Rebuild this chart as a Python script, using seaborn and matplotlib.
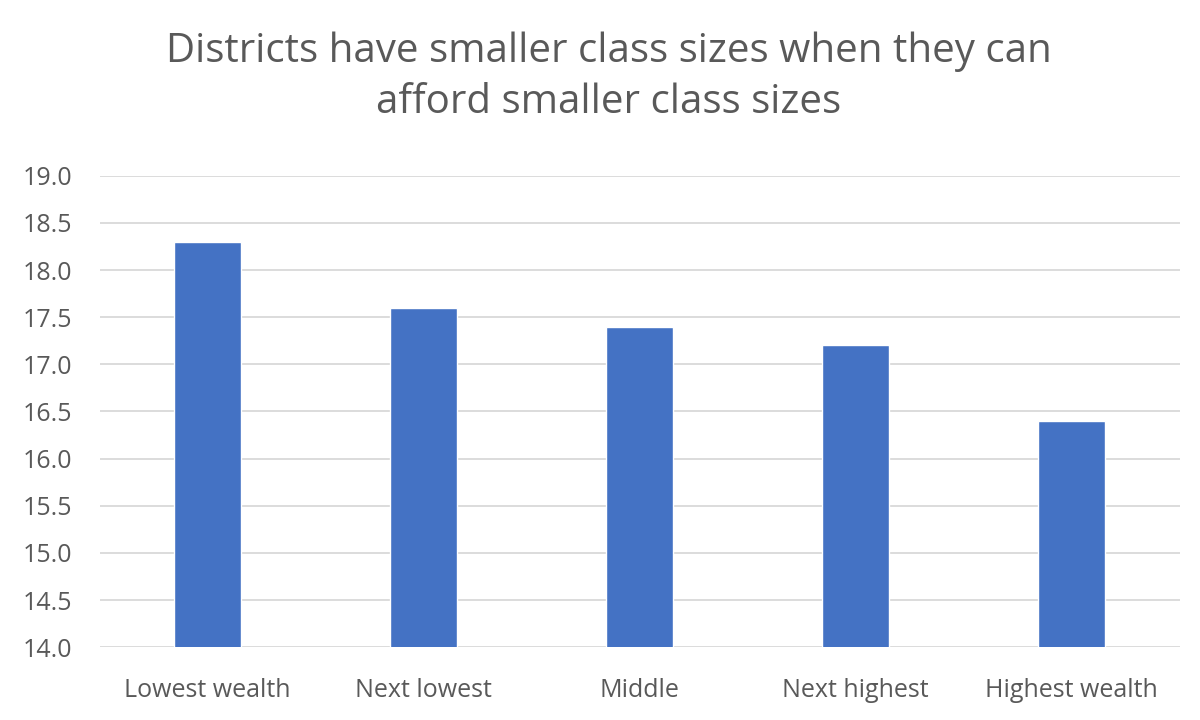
import pandas as pd
import matplotlib.pyplot as plt
import seaborn as sns

# Chart data
categories = ['Lowest wealth', 'Next lowest', 'Middle', 'Next highest', 'Highest wealth']
class_size = [18.3, 17.6, 17.4, 17.2, 16.4]
y_ticks = [14.0, 14.5, 15.0, 15.5, 16.0, 16.5, 17.0, 17.5, 18.0, 18.5, 19.0]

df = pd.DataFrame({'group': categories, 'size': class_size})

sns.set_style('white')
plt.rcParams['font.family'] = ['Open Sans', 'DejaVu Sans']

fig = plt.figure(figsize=(12, 7.2), dpi=100)
ax = fig.add_axes([0.083, 0.101, 0.9, 0.655])

sns.barplot(data=df, x='group', y='size', color='#4472C4', width=0.31,
            saturation=1, ax=ax, zorder=3)

ax.set_ylim(14.0, 19.0)
ax.set_yticks(y_ticks)
ax.set_yticklabels([f'{t:.1f}' for t in y_ticks])
ax.yaxis.grid(True, color='#D9D9D9', linewidth=1.3, zorder=0)
ax.set_axisbelow(True)
for s in ax.spines.values():
    s.set_visible(False)
ax.tick_params(axis='y', length=0, labelsize=18, colors='#595959', pad=20)
ax.tick_params(axis='x', length=0, labelsize=18, colors='#595959', pad=22)
ax.set_xlabel('')
ax.set_ylabel('')

fig.text(0.507, 0.893, 'Districts have smaller class sizes when they can\nafford smaller class sizes',
         ha='center', va='center', fontsize=29, color='#595959', linespacing=1.35)

fig.savefig('out.png', dpi=100)
